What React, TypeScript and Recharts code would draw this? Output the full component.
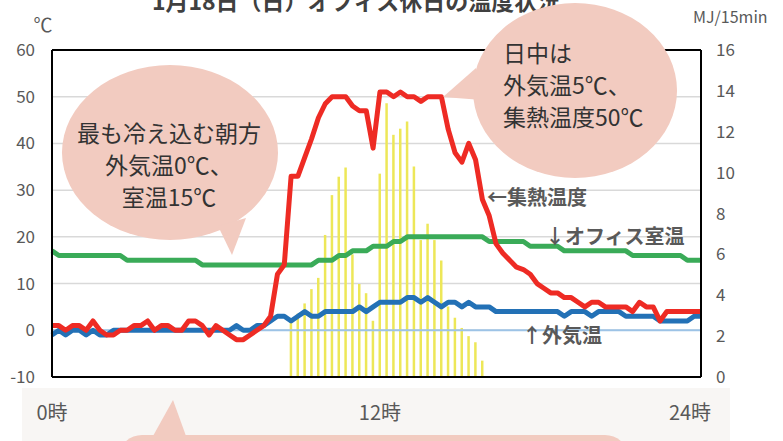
import React from 'react';
import {
    ComposedChart,
    Bar,
    Line,
    XAxis,
    YAxis,
    CartesianGrid,
    ReferenceLine
} from 'recharts';

const FONT = "'Noto Sans CJK JP', 'Noto Sans', sans-serif";

// 15-minute slots, 0:00 .. 23:45
const slots = [...Array(96).keys()];

// 集熱温度 (℃)
const collectorTemp = [
    1, 1, 0, 1, 1, 0, 2, 0, -1, -1,
    0, 0, 1, 1, 2, 0, 1, 1, 0, 0,
    2, 2, 1, -1, 1, 0, -1, -2, -2, -1,
    0, 1, 3, 12, 14, 33, 33, 37, 41, 45.5,
    48.5, 50, 50, 50, 48, 47, 47, 39, 51, 51,
    50, 51, 50, 50, 49, 50, 50, 50, 43, 38,
    36, 40, 36.5, 28, 24.5, 18.5, 16.5, 15, 13.5, 13,
    12, 10, 9, 8, 8, 7, 7, 6, 5, 6,
    6, 5, 5, 5, 5, 4, 6, 5, 5, 2,
    4, 4, 4, 4, 4, 4,
];

// オフィス室温 (℃)
const roomTemp = [
    17, 16, 16, 16, 16, 16, 16, 16, 16, 16,
    16, 15, 15, 15, 15, 15, 15, 15, 15, 15,
    15, 15, 14, 14, 14, 14, 14, 14, 14, 14,
    14, 14, 14, 14, 14, 14, 14, 14, 14, 15,
    15, 15, 16, 16, 17, 17, 17, 18, 18, 18,
    19, 19, 20, 20, 20, 20, 20, 20, 20, 20,
    20, 20, 20, 20, 19, 19, 19, 19, 19, 19,
    18, 18, 18, 18, 18, 17, 17, 17, 17, 17,
    17, 17, 17, 17, 17, 16, 16, 16, 16, 16,
    16, 16, 16, 15, 15, 15,
];

// 外気温 (℃)
const outdoorTemp = [
    -1, 0, -1, 0, 0, -1, 0, -1, -1, 0,
    0, 0, 0, 0, 0, 0, 0, 0, 0, 0,
    0, 0, 0, 0, 0, 0, 0, 1, 0, 0,
    1, 1, 2, 3, 3, 2, 3, 4, 3, 3,
    4, 4, 4, 4, 4, 5, 4, 5, 6, 6,
    6, 6, 7, 7, 6, 7, 6, 5, 6, 6,
    5, 6, 5, 5, 5, 4, 4, 4, 4, 4,
    4, 4, 4, 4, 4, 3, 4, 4, 4, 3,
    4, 4, 4, 4, 3, 3, 3, 3, 3, 2,
    2, 2, 2, 2, 3, 3,
];

// 日射量 (MJ/15min)
const solarRadiation = [
    null, null, null, null, null, null, null, null, null, null,
    null, null, null, null, null, null, null, null, null, null,
    null, null, null, null, null, null, null, null, null, null,
    null, null, null, null, null, 2.8, 3.1, 3.6, 4.3, 4.85,
    6.95, 8.9, 9.8, 10.25, 6.0, 4.55, 4.1, 2.75, 9.95, 13.4,
    11.85, 12.15, 12.5, 10.3, 6.7, 7.5, 6.7, 5.7, 3.45, 2.9,
    2.4, 2.0, 1.7, 0.8, null, null, null, null, null, null,
    null, null, null, null, null, null, null, null, null, null,
    null, null, null, null, null, null, null, null, null, null,
    null, null, null, null, null, null,
];

const tempTicks = [-10, 0, 10, 20, 30, 40, 50, 60];
const solarTicks = [0, 2, 4, 6, 8, 10, 12, 14, 16];
const xTickSlots = [0, 48, 95];
const xTickLabels = ['0時', '12時', '24時'];

const data = slots.map((slot, i) => ({
    slot,
    collector: collectorTemp[i],
    room: roomTemp[i],
    outdoor: outdoorTemp[i],
    solar: solarRadiation[i],
}));

const BUBBLE = '#f2cbc0';
const LABEL = '#595959';

function XTick({ x, payload }: any) {
    const idx = xTickSlots.indexOf(payload.value);
    const shift = payload.value === 95 ? -11 : 0;
    return (
        <text x={x + shift} y={411} textAnchor="middle" dominantBaseline="central"
            fontSize={20} fill={LABEL} fontFamily={FONT}>
            {xTickLabels[idx]}
        </text>
    );
}

const axisTick = { fontSize: 17, fill: LABEL, fontFamily: FONT };

export default function App() {
    return (
        <div style={{ position: 'absolute', left: 0, top: 0, width: 783, height: 441, background: '#fff', overflow: 'hidden' }}>
            <div style={{ position: 'absolute', left: 22, top: 388, width: 708, height: 53, background: '#f8f6f4' }} />
            <div style={{ position: 'absolute', left: 0, top: 0 }}>
                <ComposedChart width={783} height={441} data={data}
                    margin={{ top: 50, right: 0, bottom: 0, left: 0 }}>
                    <CartesianGrid yAxisId="temp" vertical={false} stroke="#d9d9d9" strokeWidth={1.5} />
                    <XAxis type="number" dataKey="slot" domain={[0, 95]} ticks={xTickSlots}
                        tick={<XTick />} tickLine={false} height={64}
                        axisLine={{ stroke: '#000', strokeWidth: 2 }} />
                    <YAxis yAxisId="temp" domain={[-10, 60]} ticks={tempTicks} width={52}
                        tickSize={0} tickMargin={17} tickLine={false} tick={axisTick}
                        axisLine={{ stroke: '#000', strokeWidth: 2 }} />
                    <YAxis yAxisId="solar" orientation="right" domain={[0, 16]} ticks={solarTicks} width={82}
                        tickSize={0} tickMargin={15} tickLine={false} tick={axisTick}
                        axisLine={{ stroke: '#000', strokeWidth: 2 }} />
                    <ReferenceLine yAxisId="temp" y={0} stroke="#9dc3e6" strokeWidth={2} />
                    <ReferenceLine yAxisId="temp" y={60} stroke="#000" strokeWidth={2} />
                    <Bar yAxisId="solar" dataKey="solar" fill="#ede758" barSize={2.5} isAnimationActive={false} />
                    <Line yAxisId="temp" dataKey="outdoor" stroke="#2371b6" strokeWidth={5} dot={false}
                        strokeLinejoin="round" isAnimationActive={false} />
                    <Line yAxisId="temp" dataKey="room" stroke="#3aab58" strokeWidth={5} dot={false}
                        strokeLinejoin="round" isAnimationActive={false} />
                    <Line yAxisId="temp" dataKey="collector" stroke="#ee2b24" strokeWidth={5} dot={false}
                        strokeLinejoin="round" isAnimationActive={false} />
                </ComposedChart>
            </div>
            <svg width={783} height={441} style={{ position: 'absolute', left: 0, top: 0 }} fontFamily={FONT}>
                <text x={356} y={10} textAnchor="middle" fontSize={23} fontWeight="bold" fill="#404040">
                    1月18日（日）オフィス休日の温度状況
                </text>
                <text x={43} y={23} textAnchor="middle" dominantBaseline="central" fontSize={19} fill={LABEL}>℃</text>
                <text x={693} y={16} dominantBaseline="central" fontSize={16} fill={LABEL}>MJ/15min</text>

                <ellipse cx={170} cy={152.5} rx={108} ry={87.5} fill={BUBBLE} />
                <polygon points="218,226 246,218 232,255" fill={BUBBLE} />
                <g fontSize={23} fill="#333" textAnchor="middle" dominantBaseline="central">
                    <text x={169} y={132}>最も冷え込む朝方</text>
                    <text x={169} y={164}>外気温0℃、</text>
                    <text x={169} y={196}>室温15℃</text>
                </g>

                <ellipse cx={575} cy={90.5} rx={102} ry={87.5} fill={BUBBLE} />
                <polygon points="443,97 476,68 482,100" fill={BUBBLE} />
                <g fontSize={23} fill="#333" dominantBaseline="central">
                    <text x={503} y={52}>日中は</text>
                    <text x={503} y={84}>外気温5℃、</text>
                    <text x={503} y={116}>集熱温度50℃</text>
                </g>

                <rect x={120} y={435} width={507} height={40} rx={22} fill={BUBBLE} />
                <polygon points="153,436 173,400 186,436" fill={BUBBLE} />

                <g fontSize={20} fontWeight="bold" fill={LABEL} dominantBaseline="central">
                    <text x={487} y={196}>←集熱温度</text>
                    <text x={545} y={235}>↓オフィス室温</text>
                    <text x={522} y={334}>↑外気温</text>
                </g>
            </svg>
        </div>
    );
}
